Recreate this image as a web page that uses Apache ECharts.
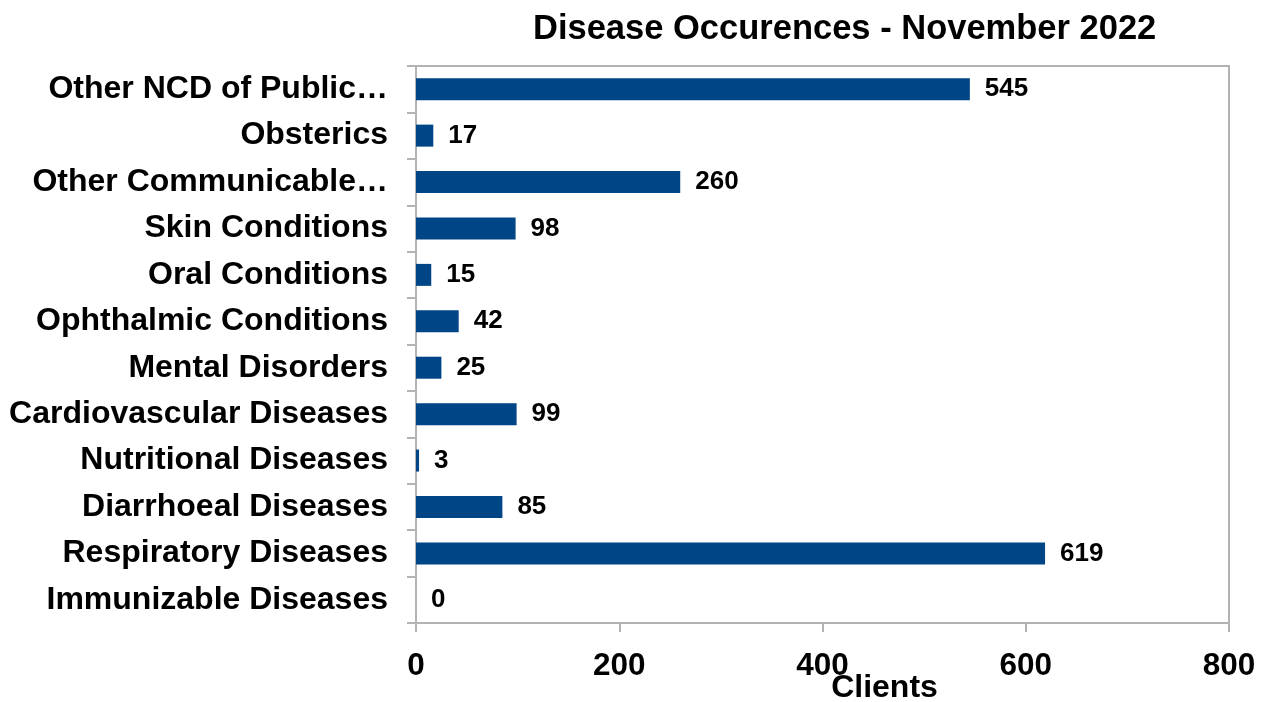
<!DOCTYPE html>
<html>
<head>
<meta charset="utf-8">
<script src="https://cdn.jsdelivr.net/npm/echarts@6/dist/echarts.min.js"></script>
<style>html,body{margin:0;padding:0;background:#fff}#c{width:1268px;height:702px}</style>
</head>
<body>
<div id="c"></div>
<script>
const titleText = "Disease Occurences - November 2022";
const categories = ["Immunizable Diseases","Respiratory Diseases","Diarrhoeal Diseases","Nutritional Diseases","Cardiovascular Diseases","Mental Disorders","Ophthalmic Conditions","Oral Conditions","Skin Conditions","Other Communicable…","Obsterics","Other NCD of Public…"];
const clients = [0,619,85,3,99,25,42,15,98,260,17,545];
const xTicks = [0,200,400,600,800];
const axisName = "Clients";

const chart = echarts.init(document.getElementById('c'));
const font = '"Liberation Sans", Arial, sans-serif';
const gray = '#b3b3b3';
chart.setOption({
  animation: false,
  title: {
    text: titleText, left: 528, top: 7,
    textStyle: {fontFamily: font, fontWeight: 'bold', fontSize: 34.5, color: '#000'}
  },
  grid: {left: 416, right: 39, top: 66, bottom: 79, show: true, borderColor: gray, borderWidth: 2, outerBoundsMode: 'none', containLabel: false},
  xAxis: {
    type: 'value', min: xTicks[0], max: xTicks[xTicks.length-1], interval: 200,
    name: axisName, nameLocation: 'middle', nameGap: 49, nameMoveOverlap: false,
    nameTextStyle: {fontFamily: font, fontWeight: 'bold', fontSize: 32, color: '#000', padding: [0,0,0,124]},
    axisLine: {show: true, lineStyle: {color: gray, width: 2}},
    axisTick: {show: true, length: 9, lineStyle: {color: gray, width: 2}},
    splitLine: {show: false},
    axisLabel: {margin: 27, fontFamily: font, fontWeight: 'bold', fontSize: 31.5, color: '#000'}
  },
  yAxis: {
    type: 'category', data: categories,
    axisLine: {show: true, lineStyle: {color: gray, width: 2}},
    axisTick: {show: true, length: 9, lineStyle: {color: gray, width: 2}},
    axisLabel: {margin: 28, fontFamily: font, fontWeight: 'bold', fontSize: 32, color: '#000'}
  },
  series: [{
    type: 'bar', data: clients, barWidth: 22,
    itemStyle: {color: '#004586'},
    label: {show: true, position: 'right', distance: 15, fontFamily: font, fontWeight: 'bold', fontSize: 26, color: '#000'}
  }]
});
</script>
</body>
</html>
